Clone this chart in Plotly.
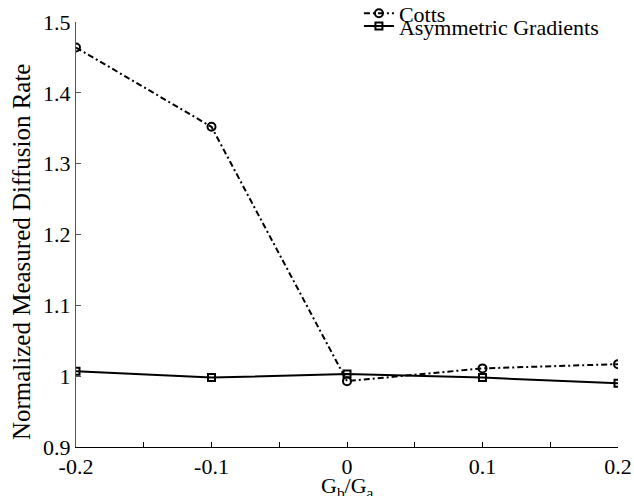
import plotly.graph_objects as go

x_vals = [-0.2, -0.1, 0.0, 0.1, 0.2]
cotts = [1.464, 1.352, 0.993, 1.011, 1.017]
asym = [1.007, 0.998, 1.003, 0.998, 0.990]
x_ticks = [-0.2, -0.1, 0, 0.1, 0.2]
x_labels = ["-0.2", "-0.1", "0", "0.1", "0.2"]
y_ticks = [0.9, 1.0, 1.1, 1.2, 1.3, 1.4, 1.5]
y_labels = ["0.9", "1", "1.1", "1.2", "1.3", "1.4", "1.5"]

font = "Liberation Serif"

fig = go.Figure()
fig.add_trace(go.Scatter(
    x=x_vals, y=cotts, name="Cotts", mode="lines+markers",
    line=dict(color="black", width=2, dash="6px,3px,2px,3px"),
    marker=dict(symbol="circle-open", size=8, color="black", line=dict(width=2)),
    legend="legend",
))
fig.add_trace(go.Scatter(
    x=x_vals, y=asym, name="Asymmetric Gradients", mode="lines+markers",
    line=dict(color="black", width=2),
    marker=dict(symbol="square-open", size=7, color="black", line=dict(width=2)),
    legend="legend2",
))

leg_common = dict(xanchor="left", yanchor="middle", bgcolor="rgba(0,0,0,0)",
                  font=dict(size=22, family=font), itemwidth=30, borderwidth=0)

fig.update_layout(
    width=634, height=496,
    margin=dict(l=76, r=16, t=22, b=49, autoexpand=False),
    paper_bgcolor="white", plot_bgcolor="white",
    font=dict(family=font, size=22, color="black"),
    showlegend=True,
    legend=dict(x=0.522, y=1.02, **leg_common),
    legend2=dict(x=0.522, y=0.99, **leg_common),
    xaxis=dict(range=[-0.2, 0.2], tickvals=x_ticks, ticktext=x_labels,
               showgrid=False, zeroline=False, showline=True, linecolor="black",
               linewidth=1, ticks="inside", ticklen=5, tickcolor="black",
               minor=dict(ticks="inside", dtick=0.05, ticklen=5, tickcolor="black"),
               tickfont=dict(size=22), automargin=False),
    yaxis=dict(range=[0.9, 1.5], tickvals=y_ticks, ticktext=y_labels,
               showgrid=False, zeroline=False, showline=True, linecolor="#555",
               linewidth=1, ticks="inside", ticklen=5, tickcolor="#555",
               tickfont=dict(size=22), automargin=False),
    annotations=[
        dict(text="Normalized Measured Diffusion Rate", textangle=-90,
             xref="paper", yref="paper", x=-0.1015, y=0.461,
             xanchor="center", yanchor="middle", showarrow=False,
             font=dict(size=25, family=font, color="black")),
        dict(text="G<sub>b</sub>/G<sub>a</sub>",
             xref="paper", yref="paper", x=0.5, y=-0.094,
             xanchor="center", yanchor="middle", showarrow=False,
             font=dict(size=22, family=font, color="black")),
    ],
)

fig.write_html("out.html", post_script="document.body.style.margin='0';",
               config={"displayModeBar": False})
